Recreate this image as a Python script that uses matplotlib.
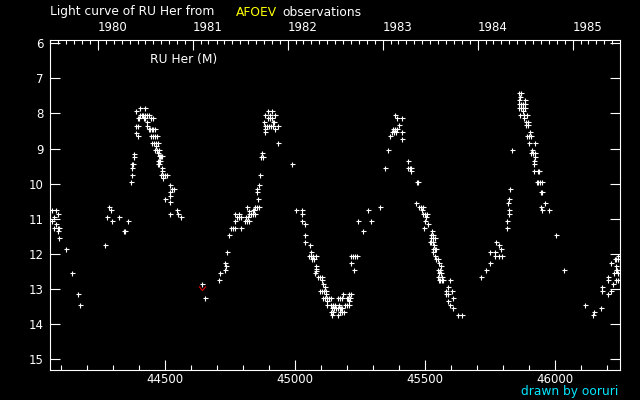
import numpy as np
import matplotlib
matplotlib.use("Agg")
import matplotlib.pyplot as plt
from matplotlib.path import Path

# JD - 2400000 and visual magnitude, one group per season
jd_a = [44063, 44078, 44086, 44072, 44065, 44078, 44072, 44086, 44090, 44088,
        44090, 44119, 44142, 44165, 44173]
mag_a = [10.75, 10.75, 10.86, 10.94, 11.06, 11.14, 11.26, 11.26, 11.26, 11.34,
         11.54, 11.86, 12.54, 13.14, 13.46]

jd_b = [44269, 44277, 44285, 44292, 44296, 44323, 44342, 44346, 44358, 44369,
        44373, 44373, 44373, 44377, 44380, 44381, 44388, 44396, 44388, 44396,
        44388, 44396, 44400, 44404, 44403, 44409, 44415, 44423, 44429, 44436,
        44423, 44419, 44423, 44430, 44430, 44438, 44445, 44454, 44442, 44448,
        44454, 44460, 44445, 44453, 44460, 44468, 44448, 44455, 44463, 44471,
        44465, 44469, 44476, 44461, 44471, 44476, 44480, 44484, 44488, 44472,
        44476, 44480, 44472, 44476, 44488, 44488, 44482, 44490, 44498, 44505,
        44492, 44500, 44519, 44519, 44526, 44533, 44519, 44519, 44519, 44546,
        44550, 44562]
mag_b = [11.74, 10.94, 10.66, 10.74, 11.06, 10.94, 11.34, 11.34, 11.06, 9.94,
         9.74, 9.54, 9.43, 9.43, 9.24, 9.15, 8.55, 8.63, 8.35, 8.35,
         7.94, 8.14, 8.14, 7.83, 8.03, 8.03, 8.03, 8.03, 8.03, 8.03,
         7.83, 8.14, 8.14, 8.23, 8.35, 8.43, 8.14, 8.14, 8.44, 8.44,
         8.44, 8.44, 8.63, 8.63, 8.63, 8.63, 8.83, 8.83, 8.83, 8.83,
         8.94, 9.03, 9.03, 9.03, 9.14, 9.22, 9.22, 9.22, 9.22, 9.34,
         9.34, 9.34, 9.43, 9.43, 9.54, 9.63, 9.74, 9.74, 9.74, 9.74,
         9.83, 10.43, 10.03, 10.23, 10.14, 10.14, 10.34, 10.53, 10.86, 10.74,
         10.86, 10.94]

jd_c = [44654, 44708, 44712, 44731, 44733, 44731, 44738, 44746, 44754, 44762,
        44769, 44792, 44769, 44769, 44777, 44785, 44785, 44792, 44808, 44815,
        44821, 44812, 44819, 44823, 44831, 44838, 44844, 44815, 44823, 44838,
        44842, 44846, 44854, 44859, 44858, 44854, 44854, 44860, 44865, 44869,
        44877, 44873, 44882, 44885, 44885, 44892, 44900, 44908, 44915, 44923,
        44935, 44881, 44915, 44919, 44896, 44903, 44910, 44885, 44904, 44923,
        44896, 44912, 44935, 44988, 44642]
mag_c = [13.26, 12.74, 12.54, 12.46, 12.34, 12.26, 11.94, 11.46, 11.26, 11.26,
         11.26, 11.26, 11.06, 10.86, 10.94, 10.86, 10.94, 10.94, 11.06, 11.06,
         11.06, 10.94, 10.94, 10.86, 10.86, 10.86, 10.86, 10.66, 10.77, 10.74,
         10.74, 10.66, 10.66, 10.66, 10.43, 10.23, 10.14, 10.03, 9.74, 9.23,
         9.23, 9.14, 8.54, 8.43, 8.35, 8.35, 8.35, 8.35, 8.35, 8.43,
         8.35, 8.23, 8.23, 8.23, 8.14, 8.14, 8.14, 8.03, 8.03, 8.03,
         7.94, 7.94, 8.83, 9.43, 12.86]

jd_d = [45004, 45027, 45027, 45027, 45038, 45038, 45038, 45056, 45062, 45054,
        45062, 45069, 45081, 45065, 45073, 45081, 45081, 45081, 45077, 45088,
        45096, 45104, 45104, 45108, 45115, 45096, 45104, 45112, 45119, 45119,
        45108, 45115, 45123, 45131, 45138, 45123, 45123, 45138, 45146, 45154,
        45142, 45150, 45158, 45165, 45173, 45181, 45138, 45146, 45173, 45181,
        45187, 45142, 45165, 45169, 45177, 45165, 45173, 45181, 45185, 45192,
        45200, 45208, 45197, 45204, 45212, 45208, 45215, 45208, 45215, 45223,
        45231, 45238, 45215, 45227, 45242, 45262, 45281, 45292]
mag_d = [10.74, 10.74, 10.86, 11.06, 11.14, 11.46, 11.66, 11.74, 11.94, 12.06,
         12.06, 12.06, 12.06, 12.14, 12.14, 12.34, 12.43, 12.49, 12.54, 12.66,
         12.66, 12.66, 12.74, 12.86, 12.94, 13.06, 13.06, 13.06, 13.06, 13.14,
         13.26, 13.26, 13.26, 13.26, 13.26, 13.34, 13.46, 13.46, 13.46, 13.46,
         13.54, 13.54, 13.54, 13.54, 13.54, 13.54, 13.66, 13.66, 13.66, 13.66,
         13.66, 13.74, 13.74, 13.46, 13.54, 13.26, 13.26, 13.26, 13.14, 13.46,
         13.46, 13.46, 13.26, 13.26, 13.26, 13.14, 13.14, 13.34, 12.06, 12.06,
         12.06, 12.06, 12.26, 12.46, 11.06, 11.34, 10.74, 11.06]

jd_e = [45327, 45346, 45358, 45365, 45373, 45381, 45388, 45377, 45385, 45392,
        45400, 45385, 45392, 45412, 45412, 45412, 45435, 45435, 45442, 45446,
        45446, 45469, 45473, 45465, 45477, 45485, 45492, 45488, 45492, 45500,
        45508, 45504, 45500, 45512, 45496, 45527, 45523, 45531, 45538, 45523,
        45531, 45519, 45523, 45531, 45535, 45531, 45538, 45542, 45531, 45538,
        45542, 45550, 45554, 45562, 45550, 45558, 45554, 45562, 45550, 45565,
        45558, 45565, 45569, 45554, 45596, 45588, 45581, 45604, 45581, 45588,
        45608, 45588, 45596, 45608, 45627, 45642]
mag_e = [10.66, 9.54, 9.03, 8.63, 8.54, 8.54, 8.54, 8.43, 8.43, 8.43,
         8.34, 8.03, 8.14, 8.14, 8.54, 8.74, 9.34, 9.54, 9.54, 9.63,
         9.54, 9.94, 9.94, 10.54, 10.66, 10.66, 10.66, 10.74, 10.86, 10.86,
         10.86, 10.94, 11.06, 11.14, 11.26, 11.34, 11.46, 11.46, 11.54, 11.54,
         11.54, 11.66, 11.66, 11.66, 11.74, 11.86, 11.86, 11.86, 11.94, 12.06,
         12.14, 12.14, 12.26, 12.34, 12.46, 12.46, 12.54, 12.54, 12.66, 12.66,
         12.74, 12.74, 12.74, 12.74, 12.74, 12.94, 13.06, 13.06, 13.14, 13.14,
         13.26, 13.34, 13.46, 13.54, 13.74, 13.74]

jd_f = [45716, 45735, 45750, 45750, 45769, 45769, 45773, 45785, 45785, 45796,
        45792, 45815, 45815, 45822, 45823, 45819, 45823, 45827, 45835, 45862,
        45869, 45865, 45862, 45885, 45862, 45869, 45877, 45885, 45862, 45869,
        45877, 45885, 45877, 45865, 45881, 45892, 45881, 45888, 45896, 45888,
        45896, 45904, 45900, 45908, 45892, 45900, 45923, 45912, 45908, 45915,
        45923, 45923, 45919, 45919, 45917, 45935, 45938, 45929, 45935, 45942,
        45950, 45946, 45950, 45962, 45946, 45950, 45977, 46004, 46035]
mag_f = [12.66, 12.46, 12.26, 11.94, 11.94, 12.06, 11.66, 11.74, 12.06, 12.06,
         11.86, 11.26, 11.06, 10.86, 10.74, 10.54, 10.43, 10.14, 9.03, 7.43,
         7.43, 7.54, 7.63, 7.63, 7.74, 7.74, 7.74, 7.74, 7.83, 7.83,
         7.83, 7.83, 7.94, 8.03, 8.03, 8.03, 8.14, 8.23, 8.23, 8.34,
         8.34, 8.54, 8.63, 8.63, 8.63, 8.83, 8.83, 9.03, 9.14, 9.14,
         9.14, 9.23, 9.34, 9.43, 9.63, 9.63, 9.63, 9.94, 9.94, 9.94,
         9.94, 10.23, 10.23, 10.54, 10.66, 10.74, 10.74, 11.46, 12.46]

jd_g = [46115, 46146, 46150, 46177, 46181, 46181, 46204, 46204, 46204, 46215,
        46223, 46215, 46225, 46229, 46235, 46240, 46233, 46240, 46233, 46237,
        46233, 46240, 46242]
mag_g = [13.46, 13.74, 13.66, 13.54, 12.94, 13.06, 13.14, 12.66, 12.74, 13.06,
         12.86, 12.26, 12.54, 12.14, 12.14, 12.14, 12.34, 12.54, 12.46, 12.46,
         12.74, 12.74, 12.06]

# fainter-than estimate
jd_lim = [44642]
mag_lim = [12.98]

year_labels = ["1980", "1981", "1982", "1983", "1984", "1985"]
jd_ticks = [44500, 45000, 45500, 46000]
mag_ticks = [6, 7, 8, 9, 10, 11, 12, 13, 14, 15]


def to_jd(date):
    # JD - 2400000 from a calendar date
    return (np.datetime64(date) - np.datetime64("1858-11-17")).astype(int) + 0.5


fig = plt.figure(figsize=(6.4, 4.0), dpi=100, facecolor="black")
ax = fig.add_axes([50.3 / 640, 30 / 400, 570 / 640, 330 / 400], facecolor="black")

seasons = [(jd_a, mag_a), (jd_b, mag_b), (jd_c, mag_c), (jd_d, mag_d),
           (jd_e, mag_e), (jd_f, mag_f), (jd_g, mag_g)]
for jd, mag in seasons:
    ax.plot(jd, mag, linestyle="none", marker="+", color="white",
            markersize=3.6, markeredgewidth=0.8, antialiased=False)

vmark = Path([(-1, 0.6), (0, -0.6), (1, 0.6)], [Path.MOVETO, Path.LINETO, Path.LINETO])
ax.plot(jd_lim, mag_lim, linestyle="none", marker=vmark, color="#e00000",
        markerfacecolor="none", markersize=5, markeredgewidth=0.8)

ax.set_xlim(44057.7, 46250)
ax.set_ylim(15.31, 5.906)

for spine in ax.spines.values():
    spine.set_color("white")
    spine.set_linewidth(0.8)

ax.set_xticks(jd_ticks)
ax.set_xticklabels([str(t) for t in jd_ticks])
ax.set_xticks(np.arange(44100, 46250, 100), minor=True)
ax.set_yticks(mag_ticks)
ax.set_yticklabels([str(t) for t in mag_ticks])
ax.tick_params(axis="x", which="major", direction="in", length=7.5, width=0.8,
               colors="white", labelsize=8.5, pad=2)
ax.tick_params(axis="x", which="minor", direction="in", length=3.8, width=0.8,
               colors="white")
ax.tick_params(axis="y", which="major", direction="in", length=7.5, width=0.8,
               colors="white", labelsize=8.5, pad=5, right=True)

# calendar axis on top
top = ax.twiny()
top.set_xlim(ax.get_xlim())
top.set_xticks([to_jd(f"{y}-01-01") for y in year_labels])
top.set_xticklabels(year_labels, ha="left")
months = np.arange(np.datetime64("1979-07"), np.datetime64("1985-07"))
top.set_xticks([to_jd(str(m) + "-01") for m in months], minor=True)
top.tick_params(axis="x", which="major", direction="in", length=7.5, width=0.8,
                colors="white", labelsize=8.5, pad=4)
top.tick_params(axis="x", which="minor", direction="in", length=3, width=0.8,
                colors="white")
for spine in top.spines.values():
    spine.set_visible(False)

fig.text(50 / 640, 1 - 12 / 400, "Light curve of RU Her from", color="white",
         fontsize=8.8, va="center", ha="left")
fig.text(236 / 640, 1 - 12 / 400, "AFOEV", color="#ffff00",
         fontsize=8.8, va="center", ha="left")
fig.text(282 / 640, 1 - 12 / 400, "observations", color="white",
         fontsize=8.8, va="center", ha="left")
fig.text(150 / 640, 1 - 60 / 400, "RU Her (M)", color="white",
         fontsize=8.8, va="center", ha="left")
fig.text(618 / 640, 1 - 391 / 400, "drawn by ooruri", color="#00e8ff",
         fontsize=8.8, va="center", ha="right")

fig.savefig("out.png", dpi=100, facecolor="black")
